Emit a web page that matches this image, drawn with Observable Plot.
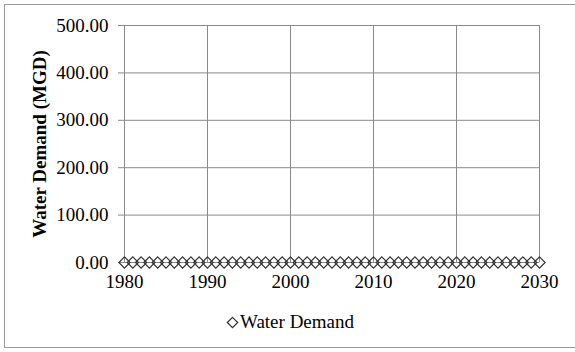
<!DOCTYPE html>
<html>
<head>
<meta charset="utf-8">
<script src="https://cdn.jsdelivr.net/npm/d3@7"></script>
<script src="https://cdn.jsdelivr.net/npm/@observablehq/plot@0.6"></script>
<style>
  html, body { margin: 0; padding: 0; background: #fff; overflow: hidden; }
  #wrap { position: relative; width: 575px; height: 352px; }
  #frame { position: absolute; left: 4px; top: 4px; width: 580px; height: 344px; border: 1px solid #999; box-sizing: border-box; }
  #chart { position: absolute; left: 0; top: 0; }
  #legend { position: absolute; left: 226px; top: 311px; font-family: "Liberation Serif", "Times New Roman", serif; font-size: 19px; color: #000; display: flex; align-items: center; }
  #legend svg { margin-right: 1px; }
  #chart svg, #chart svg text { font-family: "Liberation Serif", "Times New Roman", serif !important; }
</style>
</head>
<body>
<div id="wrap">
  <div id="frame"></div>
  <div id="chart"></div>
  <div id="legend"></div>
</div>
<script>
const years = [1980,1981,1982,1983,1984,1985,1986,1987,1988,1989,
               1990,1991,1992,1993,1994,1995,1996,1997,1998,1999,
               2000,2001,2002,2003,2004,2005,2006,2007,2008,2009,
               2010,2011,2012,2013,2014,2015,2016,2017,2018,2019,
               2020,2021,2022,2023,2024,2025,2026,2027,2028,2029,2030];
const demand = [0,0,0,0,0,0,0,0,0,0,
                0,0,0,0,0,0,0,0,0,0,
                0,0,0,0,0,0,0,0,0,0,
                0,0,0,0,0,0,0,0,0,0,
                0,0,0,0,0,0,0,0,0,0,0];
const xTicks = [1980, 1990, 2000, 2010, 2020, 2030];
const yTicks = [0, 100, 200, 300, 400, 500];
const seriesName = "Water Demand";
const yLabel = "Water Demand (MGD)";

const data = years.map((y, i) => ({year: y, value: demand[i]}));
const grid = "#8a8a8a";
const serif = "'Liberation Serif', 'Times New Roman', serif";

// outline diamond marker, like the spreadsheet's
const diamondMarker = {
  draw(ctx) {
    const w = 5.6, h = 5.6;
    ctx.moveTo(0, -h); ctx.lineTo(w, 0); ctx.lineTo(0, h); ctx.lineTo(-w, 0); ctx.closePath();
  }
};

const chart = Plot.plot({
  width: 575,
  height: 352,
  marginLeft: 124,
  marginRight: 36,
  marginTop: 25,
  marginBottom: 90,
  style: {fontFamily: serif, fontSize: "19px", color: "#000", background: "transparent", overflow: "visible"},
  x: {domain: [1980, 2030]},
  y: {domain: [0, 500]},
  marks: [
    Plot.gridX(xTicks, {stroke: grid, strokeOpacity: 1, strokeWidth: 1}),
    Plot.gridY(yTicks, {stroke: grid, strokeOpacity: 1, strokeWidth: 1}),
    Plot.axisY(yTicks, {tickSize: 6, tickPadding: 10, stroke: grid, tickFormat: d => d.toFixed(2), label: null, fontSize: 19, fontFamily: serif}),
    Plot.axisX(xTicks, {tickSize: 0, tickPadding: 12, tickFormat: d => String(d), label: null, fontSize: 19, fontFamily: serif}),
    Plot.text([yLabel], {frameAnchor: "left", dx: -85, rotate: -90, textAnchor: "middle", fontWeight: "bold", fontSize: 19, fontFamily: serif, text: d => d}),
    Plot.dot(data, {x: "year", y: "value", symbol: diamondMarker, r: 5, stroke: "#333", strokeWidth: 1.2, fill: "none"})
  ]
});
document.getElementById("chart").appendChild(chart);

const leg = document.getElementById("legend");
leg.innerHTML = `<svg width="13" height="13" viewBox="-6.5 -6.5 13 13"><path d="M0,-5.2L5.2,0L0,5.2L-5.2,0Z" fill="none" stroke="#333" stroke-width="1.2"/></svg><span>${seriesName}</span>`;
</script>
</body>
</html>
